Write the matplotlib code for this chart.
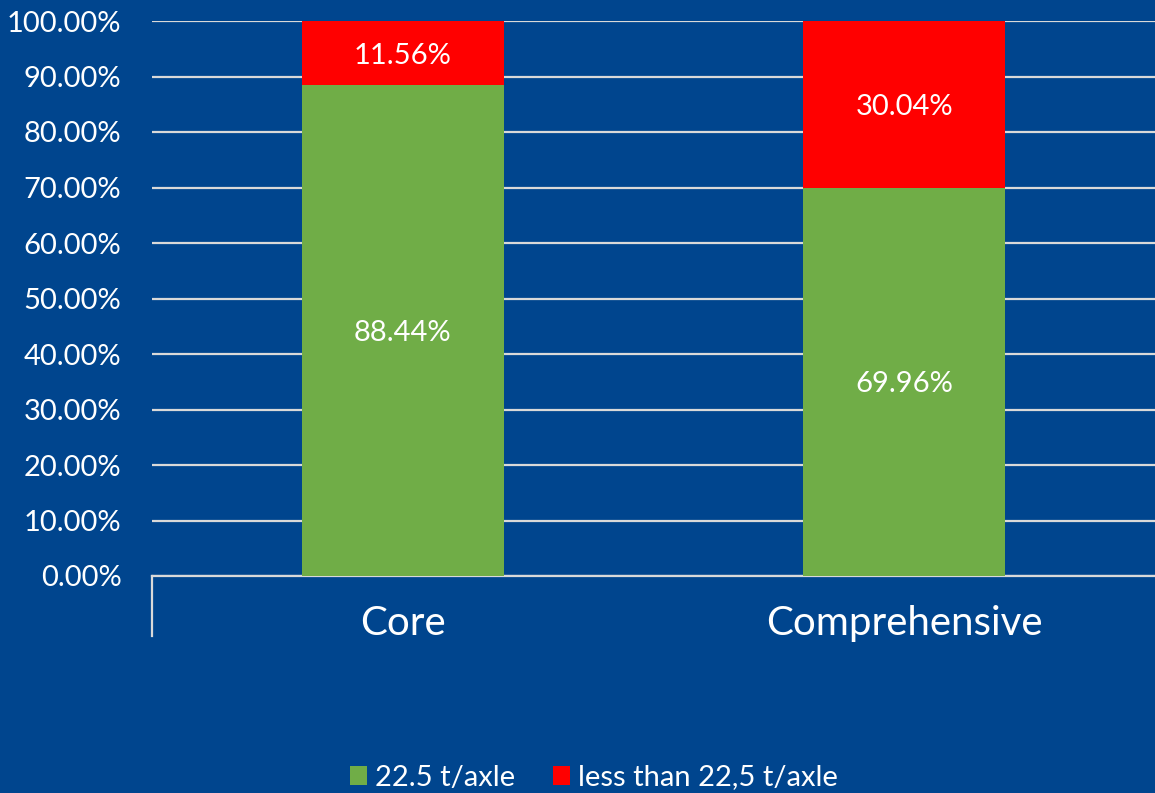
import matplotlib.pyplot as plt
import numpy as np

# share of network by axle load
categories = ['Core', 'Comprehensive']
heavy = [88.44, 69.96]      # 22.5 t/axle
light = [11.56, 30.04]      # less than 22,5 t/axle
yticks = [0, 10, 20, 30, 40, 50, 60, 70, 80, 90, 100]

bg = '#00458E'
green = '#70AD47'
red = '#FF0000'
grid_col = '#D9D9D9'

plt.rcParams['font.family'] = ['Lato', 'DejaVu Sans']

fig = plt.figure(figsize=(11.55, 7.93), dpi=100, facecolor=bg)
ax = fig.add_axes([152/1155, 1 - 576/793, 1 - 152/1155, (576 - 21)/793])
ax.set_facecolor(bg)

x = np.arange(len(categories))
w = 0.402
b1 = ax.bar(x, heavy, w, color=green, label='22.5 t/axle', zorder=3)
b2 = ax.bar(x, light, w, bottom=heavy, color=red, label='less than 22,5 t/axle', zorder=3)

for rect, v in zip(b1, heavy):
    ax.text(rect.get_x() + rect.get_width()/2, rect.get_height()/2, f'{v:.2f}%',
            ha='center', va='center_baseline', color='white', fontsize=21, zorder=4)
for rect, v, b in zip(b2, light, heavy):
    ax.text(rect.get_x() + rect.get_width()/2, b + v/2, f'{v:.2f}%',
            ha='center', va='center_baseline', color='white', fontsize=21, zorder=4)

ax.set_xlim(-0.5, len(categories) - 0.5)
ax.set_ylim(0, 100)
ax.set_yticks(yticks)
ax.set_yticklabels([f'{t:.2f}%' for t in yticks])
ax.set_xticks(x)
ax.set_xticklabels(categories)
ax.tick_params(axis='y', length=0, pad=22, labelsize=21, colors='white')
ax.tick_params(axis='x', length=0, pad=21, labelsize=29, colors='white')
ax.yaxis.grid(True, color=grid_col, lw=1.6, zorder=0)
ax.set_axisbelow(True)

for s in ['top', 'right', 'left']:
    ax.spines[s].set_visible(False)
ax.spines['bottom'].set_color(grid_col)
ax.spines['bottom'].set_linewidth(1.6)
# left boundary tick below the axis
ax.plot([0, 0], [0, -60/555], transform=ax.transAxes, color=grid_col, lw=1.6, clip_on=False)

leg = fig.legend(loc='lower center', bbox_to_anchor=(0.514, -0.030), ncol=2, frameon=False,
                 fontsize=21, handlelength=0.6, handleheight=0.6, handletextpad=0.25,
                 columnspacing=1.3)
for t in leg.get_texts():
    t.set_color('white')

fig.savefig('out.png', dpi=100, facecolor=bg)
